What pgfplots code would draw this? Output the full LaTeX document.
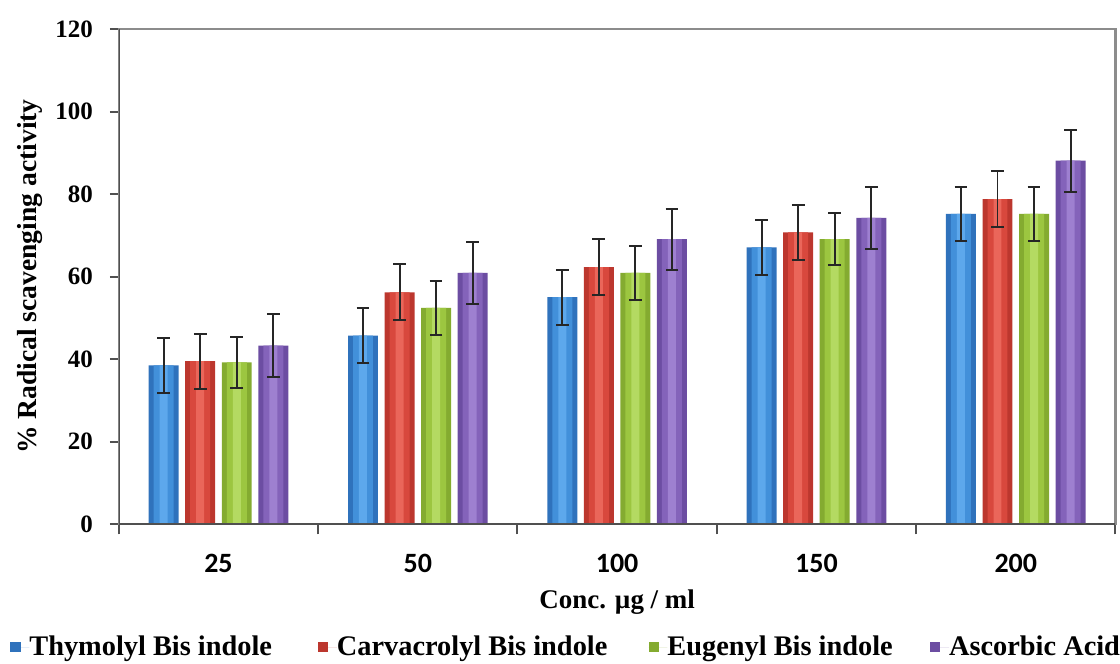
\documentclass[border=0pt]{standalone}
\usepackage{pgfplots}
\pgfplotsset{compat=1.18}
\usepackage{fontspec}
\setmainfont{Liberation Serif}
\newfontfamily\calib{Carlito}
\definecolor{blueA}{HTML}{2F72BC}
\definecolor{blueB}{HTML}{4290DA}
\definecolor{blueC}{HTML}{5DA8EC}
\definecolor{redA}{HTML}{BC372E}
\definecolor{redB}{HTML}{D8483D}
\definecolor{redC}{HTML}{EA665A}
\definecolor{greenA}{HTML}{84AB30}
\definecolor{greenB}{HTML}{9CC640}
\definecolor{greenC}{HTML}{B4DA62}
\definecolor{purpA}{HTML}{6C4DA2}
\definecolor{purpB}{HTML}{8463BA}
\definecolor{purpC}{HTML}{9E80D0}
\definecolor{axgray}{HTML}{505050}
\definecolor{frgray}{HTML}{8C8C8C}
\pgfplotstableread{
x thy thyE car carE eug eugE asc ascE
0 38.5 6.7 39.5 6.7 39.2 6.2 43.3 7.6
1 45.7 6.7 56.2 6.8 52.4 6.5 60.9 7.6
2 55.0 6.7 62.3 6.7 60.9 6.6 69.1 7.4
3 67.1 6.7 70.7 6.7 69.1 6.4 74.2 7.6
4 75.2 6.5 78.8 6.9 75.2 6.6 88.1 7.5
}\data
\begin{document}
\begin{tikzpicture}
\begin{axis}[
  scale only axis, width=499pt, height=248pt,
  xmin=-0.5, xmax=4.5, ymin=0, ymax=120,
  ytick={0,20,...,120},
  xtick={0,...,4}, xticklabels={25,50,100,150,200},
  minor xtick={-0.5,0.5,...,4.5},
  major x tick style={draw=none},
  minor x tick style={draw=axgray, line width=1pt},
  major y tick style={draw=axgray, line width=1pt},
  minor tick length=5pt, major tick length=4.5pt,
  tick align=outside, xtick pos=bottom, ytick pos=left,
  axis line style={draw=frgray, line width=1.2pt},
  /pgf/number format/assume math mode=true,
  yticklabel style={font=\bfseries\fontsize{12.5}{14}\selectfont, anchor=east, xshift=-5pt},
  xticklabel style={font=\calib\bfseries\fontsize{14}{16}\selectfont, anchor=center, yshift=-15pt},
  every axis y label/.style={at={(axis description cs:-0.0892,0.5)}, rotate=90, anchor=center},
  every axis x label/.style={at={(axis description cs:0.5,0)}, anchor=center, yshift=-39pt},
  ylabel={\bfseries\fontsize{13.8}{16}\selectfont \% Radical scavenging activity},
  xlabel={\bfseries\fontsize{13.5}{16}\selectfont Conc. µg / ml},
  ybar, bar width=15pt,
  legend columns=4,
  legend style={at={(axis description cs:-0.1092,-0.248)}, anchor=west, draw=none, fill=none,
    inner xsep=0pt, inner ysep=0pt, font=\bfseries\fontsize{14.2}{16}\selectfont,
    nodes={inner sep=0pt}},
  legend image code/.code={\path[#1, draw=none] (0pt,-2.6pt) rectangle (5.2pt,2.6pt); \path (0pt,0pt) -- (9.5pt,0pt);},
  error bars/error bar style={draw=black!85, line width=1pt},
  error bars/error mark options={rotate=90, mark size=3.2pt, line width=1pt, draw=black!85},
]
% base bars
\addplot[draw=none, fill=blueA, bar shift=-27.45pt] table[x=x, y=thy] {\data};
\addlegendentry{\makebox[144.5pt][l]{Thymolyl Bis indole}}
\addplot[draw=none, fill=redA, bar shift=-9.15pt] table[x=x, y=car] {\data};
\addlegendentry{\makebox[156pt][l]{Carvacrolyl Bis indole}}
\addplot[draw=none, fill=greenA, bar shift=9.15pt] table[x=x, y=eug] {\data};
\addlegendentry{\makebox[131.5pt][l]{Eugenyl Bis indole}}
\addplot[draw=none, fill=purpA, bar shift=27.45pt] table[x=x, y=asc] {\data};
\addlegendentry{Ascorbic Acid}
% shading layers
\addplot[forget plot, draw=none, fill=blueB, bar width=10pt, bar shift=-27.45pt] table[x=x, y=thy] {\data};
\addplot[forget plot, draw=none, fill=redB, bar width=10pt, bar shift=-9.15pt] table[x=x, y=car] {\data};
\addplot[forget plot, draw=none, fill=greenB, bar width=10pt, bar shift=9.15pt] table[x=x, y=eug] {\data};
\addplot[forget plot, draw=none, fill=purpB, bar width=10pt, bar shift=27.45pt] table[x=x, y=asc] {\data};
\addplot[forget plot, draw=none, fill=blueC, bar width=4pt, bar shift=-27.45pt,
  error bars/.cd, y dir=both, y explicit] table[x=x, y=thy, y error=thyE] {\data};
\addplot[forget plot, draw=none, fill=redC, bar width=4pt, bar shift=-9.15pt,
  error bars/.cd, y dir=both, y explicit] table[x=x, y=car, y error=carE] {\data};
\addplot[forget plot, draw=none, fill=greenC, bar width=4pt, bar shift=9.15pt,
  error bars/.cd, y dir=both, y explicit] table[x=x, y=eug, y error=eugE] {\data};
\addplot[forget plot, draw=none, fill=purpC, bar width=4pt, bar shift=27.45pt,
  error bars/.cd, y dir=both, y explicit] table[x=x, y=asc, y error=ascE] {\data};
\draw[axgray, line width=1.2pt] (rel axis cs:0,1) -- (rel axis cs:0,0) -- (rel axis cs:1,0);
\end{axis}
\path (current axis.south west) ++(-59.5pt,-69.5pt) coordinate (bbA);
\path (current axis.north east) ++(1.5pt,14.5pt) coordinate (bbB);
\path (bbA) rectangle (bbB);
\end{tikzpicture}
\end{document}
